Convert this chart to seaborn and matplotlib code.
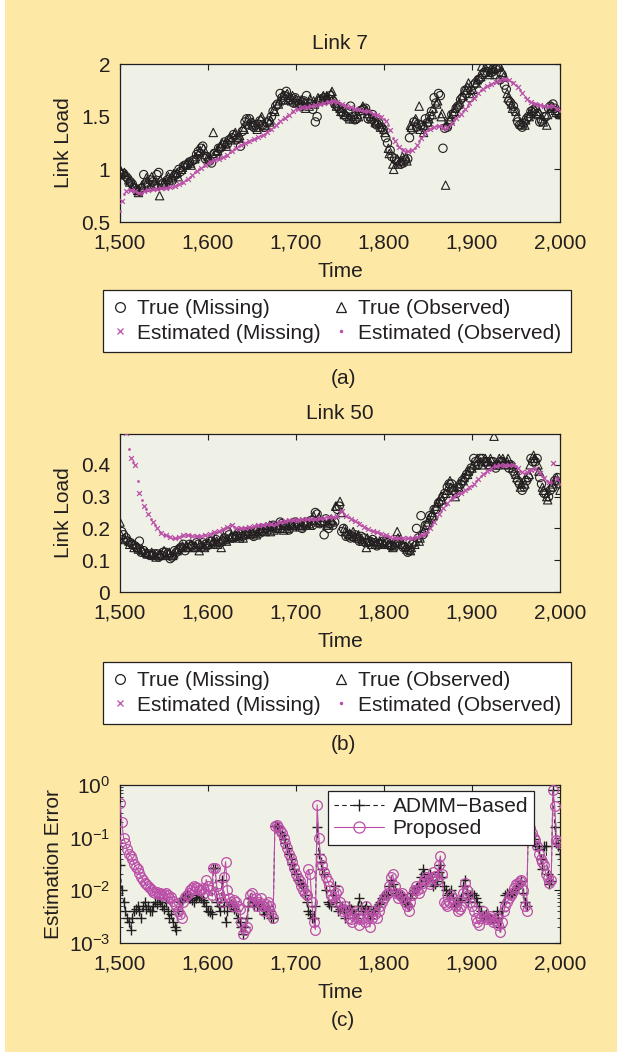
import numpy as np
import pandas as pd
import matplotlib
matplotlib.use("Agg")
import matplotlib.pyplot as plt
import seaborn as sns
from matplotlib.lines import Line2D
from matplotlib.patches import Rectangle

# ---------------- data ----------------
t_obs = list(range(1500, 2001, 5))    # observed slots (estimates + true)
t_mis = list(range(1502, 2000, 5))    # missing slots (estimates + true)
t_obs_b = list(range(1501, 2000, 5))  # further observed slots (true)
t_mis_b = list(range(1504, 2000, 5))  # further missing slots (true)

# Link 7
true7_obs = [1.00, 0.97, 0.90, 0.86, 0.80, 0.85, 0.92, 0.86, 0.90, 0.75,
             0.88, 0.93, 0.92, 0.97, 1.00, 1.05, 1.06, 1.10, 1.16, 1.20,
             1.12, 1.15, 1.17, 1.22, 1.25, 1.30, 1.33, 1.30, 1.40, 1.47,
             1.42, 1.40, 1.48, 1.42, 1.45, 1.57, 1.62, 1.66, 1.72, 1.65,
             1.67, 1.62, 1.64, 1.60, 1.65, 1.68, 1.66, 1.70, 1.72, 1.63,
             1.58, 1.52, 1.50, 1.48, 1.52, 1.58, 1.56, 1.50, 1.45, 1.43,
             1.38, 1.20, 1.05, 1.10, 1.08, 1.12, 1.42, 1.46, 1.60, 1.35,
             1.45, 1.52, 1.62, 1.50, 0.85, 1.47, 1.55, 1.62, 1.70, 1.78,
             1.72, 1.82, 1.88, 1.97, 1.90, 1.96, 1.97, 1.92, 1.72, 1.62,
             1.55, 1.45, 1.42, 1.50, 1.55, 1.52, 1.48, 1.42, 1.60, 1.56,
             1.52]
true7_obs_b = [0.98, 0.95, 0.88, 0.84, 0.78, 0.83, 0.88, 0.93, 0.85, 0.90,
               0.86, 0.90, 0.96, 0.93, 1.02, 1.06, 1.04, 1.12, 1.18, 1.14,
               1.10, 1.35, 1.18, 1.25, 1.22, 1.28, 1.35, 1.32, 1.38, 1.43,
               1.45, 1.38, 1.50, 1.40, 1.47, 1.55, 1.65, 1.70, 1.66, 1.70,
               1.63, 1.66, 1.58, 1.67, 1.62, 1.66, 1.70, 1.68, 1.74, 1.60,
               1.55, 1.54, 1.48, 1.52, 1.50, 1.60, 1.53, 1.48, 1.44, 1.40,
               1.35, 1.15, 1.00, 1.05, 1.12, 1.08, 1.40, 1.48, 1.38, 1.42,
               1.48, 1.58, 1.65, 1.53, 1.42, 1.50, 1.58, 1.64, 1.75, 1.82,
               1.76, 1.85, 1.98, 1.92, 1.95, 1.90, 1.99, 1.88, 1.68, 1.58,
               1.50, 1.43, 1.47, 1.53, 1.58, 1.55, 1.45, 1.52, 1.58, 1.54]
true7_mis = [0.95, 0.93, 0.88, 0.82, 0.79, 0.95, 0.83, 0.88, 0.95, 0.85,
             0.87, 0.95, 0.94, 1.00, 1.03, 1.04, 1.08, 1.14, 1.20, 1.10,
             1.08, 1.15, 1.20, 1.23, 1.24, 1.30, 1.28, 1.22, 1.45, 1.48,
             1.40, 1.43, 1.42, 1.44, 1.50, 1.60, 1.72, 1.70, 1.68, 1.63,
             1.65, 1.60, 1.70, 1.62, 1.45, 1.65, 1.68, 1.67, 1.65, 1.60,
             1.55, 1.50, 1.60, 1.47, 1.55, 1.57, 1.48, 1.52, 1.42, 1.40,
             1.30, 1.18, 1.10, 1.07, 1.06, 1.10, 1.38, 1.40, 1.42, 1.48,
             1.50, 1.68, 1.72, 1.20, 1.40, 1.52, 1.58, 1.66, 1.75, 1.68,
             1.80, 1.85, 1.90, 1.93, 1.92, 1.95, 1.85, 1.80, 1.65, 1.60,
             1.45, 1.40, 1.48, 1.55, 1.58, 1.45, 1.50, 1.58, 1.62, 1.55]
true7_mis_b = [0.96, 0.91, 0.86, 0.80, 0.82, 0.86, 0.90, 0.84, 0.97, 0.87,
               0.90, 0.89, 0.95, 0.98, 1.04, 1.07, 1.09, 1.17, 1.22, 1.12,
               1.06, 1.13, 1.20, 1.26, 1.28, 1.33, 1.30, 1.36, 1.48, 1.44,
               1.42, 1.46, 1.40, 1.46, 1.55, 1.62, 1.68, 1.74, 1.66, 1.68,
               1.62, 1.65, 1.63, 1.57, 1.50, 1.67, 1.66, 1.70, 1.62, 1.58,
               1.52, 1.55, 1.50, 1.48, 1.56, 1.58, 1.50, 1.46, 1.44, 1.38,
               1.25, 1.12, 1.08, 1.05, 1.09, 1.30, 1.45, 1.43, 1.40, 1.44,
               1.55, 1.63, 1.70, 1.39, 1.45, 1.53, 1.60, 1.68, 1.72, 1.75,
               1.82, 1.86, 1.92, 1.96, 1.93, 1.98, 1.90, 1.76, 1.63, 1.55,
               1.42, 1.44, 1.50, 1.56, 1.53, 1.46, 1.50, 1.60, 1.58, 1.52]
est7_obs = [0.60, 0.77, 0.80, 0.80, 0.78, 0.78, 0.80, 0.80, 0.81, 0.82,
            0.82, 0.82, 0.83, 0.85, 0.87, 0.90, 0.93, 0.97, 1.00, 1.03,
            1.06, 1.08, 1.10, 1.11, 1.13, 1.16, 1.19, 1.22, 1.24, 1.26,
            1.28, 1.30, 1.32, 1.34, 1.37, 1.40, 1.44, 1.48, 1.51, 1.54,
            1.57, 1.58, 1.59, 1.60, 1.61, 1.61, 1.62, 1.64, 1.65, 1.65,
            1.63, 1.61, 1.59, 1.58, 1.57, 1.56, 1.55, 1.54, 1.53, 1.51,
            1.48, 1.42, 1.30, 1.23, 1.19, 1.17, 1.17, 1.20, 1.27, 1.33,
            1.37, 1.39, 1.41, 1.42, 1.38, 1.42, 1.47, 1.51, 1.55, 1.60,
            1.66, 1.70, 1.75, 1.78, 1.80, 1.82, 1.84, 1.86, 1.86, 1.83,
            1.80, 1.75, 1.69, 1.65, 1.63, 1.62, 1.60, 1.59, 1.61, 1.58,
            1.55]
est7_mis = [0.70, 0.79, 0.80, 0.79, 0.78, 0.79, 0.80, 0.81, 0.81, 0.82,
            0.82, 0.83, 0.84, 0.86, 0.88, 0.91, 0.95, 0.98, 1.01, 1.04,
            1.07, 1.09, 1.10, 1.12, 1.14, 1.17, 1.20, 1.23, 1.25, 1.27,
            1.29, 1.31, 1.33, 1.35, 1.38, 1.42, 1.46, 1.49, 1.52, 1.55,
            1.57, 1.59, 1.59, 1.60, 1.61, 1.62, 1.63, 1.64, 1.65, 1.64,
            1.62, 1.60, 1.59, 1.57, 1.57, 1.55, 1.55, 1.53, 1.52, 1.50,
            1.46, 1.37, 1.27, 1.21, 1.18, 1.17, 1.18, 1.23, 1.30, 1.35,
            1.38, 1.40, 1.41, 1.39, 1.40, 1.44, 1.49, 1.53, 1.57, 1.63,
            1.68, 1.72, 1.76, 1.79, 1.81, 1.83, 1.85, 1.86, 1.85, 1.82,
            1.78, 1.72, 1.67, 1.64, 1.62, 1.61, 1.60, 1.60, 1.60, 1.57]

# Link 50
true50_obs = [0.22, 0.17, 0.16, 0.15, 0.14, 0.135, 0.125, 0.12, 0.115, 0.12,
              0.13, 0.12, 0.115, 0.13, 0.14, 0.145, 0.15, 0.14, 0.13, 0.145,
              0.15, 0.155, 0.16, 0.14, 0.165, 0.17, 0.175, 0.18, 0.17, 0.185,
              0.19, 0.18, 0.20, 0.19, 0.21, 0.195, 0.20, 0.21, 0.20, 0.215,
              0.21, 0.205, 0.22, 0.215, 0.24, 0.22, 0.225, 0.21, 0.23, 0.27,
              0.285, 0.20, 0.18, 0.19, 0.17, 0.165, 0.14, 0.16, 0.15, 0.16,
              0.155, 0.15, 0.14, 0.19, 0.155, 0.145, 0.13, 0.15, 0.16, 0.19,
              0.22, 0.25, 0.27, 0.30, 0.31, 0.35, 0.32, 0.33, 0.35, 0.37,
              0.39, 0.40, 0.41, 0.42, 0.40, 0.49, 0.40, 0.42, 0.41, 0.40,
              0.37, 0.33, 0.34, 0.37, 0.43, 0.40, 0.33, 0.30, 0.33, 0.35,
              0.32]
true50_obs_b = [0.18, 0.165, 0.15, 0.14, 0.135, 0.13, 0.12, 0.125, 0.11, 0.12,
                0.115, 0.125, 0.12, 0.135, 0.145, 0.14, 0.15, 0.145, 0.15, 0.14,
                0.155, 0.16, 0.15, 0.17, 0.16, 0.175, 0.18, 0.17, 0.18, 0.19,
                0.185, 0.19, 0.195, 0.205, 0.19, 0.205, 0.21, 0.195, 0.21, 0.205,
                0.22, 0.21, 0.215, 0.21, 0.225, 0.235, 0.22, 0.215, 0.225, 0.27,
                0.25, 0.19, 0.185, 0.175, 0.18, 0.16, 0.17, 0.15, 0.16, 0.155,
                0.15, 0.155, 0.145, 0.17, 0.15, 0.135, 0.14, 0.16, 0.17, 0.20,
                0.23, 0.24, 0.28, 0.29, 0.32, 0.33, 0.30, 0.34, 0.36, 0.38,
                0.40, 0.42, 0.40, 0.41, 0.42, 0.40, 0.42, 0.41, 0.42, 0.39,
                0.36, 0.34, 0.36, 0.40, 0.42, 0.38, 0.32, 0.29, 0.34, 0.36]
true50_mis = [0.19, 0.17, 0.155, 0.145, 0.16, 0.13, 0.12, 0.115, 0.12, 0.115,
              0.125, 0.105, 0.13, 0.135, 0.15, 0.14, 0.145, 0.155, 0.14, 0.15,
              0.16, 0.15, 0.175, 0.16, 0.19, 0.17, 0.175, 0.185, 0.18, 0.19,
              0.175, 0.195, 0.19, 0.20, 0.205, 0.20, 0.22, 0.21, 0.195, 0.21,
              0.215, 0.20, 0.21, 0.225, 0.25, 0.215, 0.18, 0.20, 0.21, 0.26,
              0.19, 0.175, 0.17, 0.18, 0.16, 0.17, 0.155, 0.165, 0.145, 0.15,
              0.16, 0.145, 0.15, 0.16, 0.14, 0.125, 0.15, 0.20, 0.24, 0.21,
              0.24, 0.26, 0.28, 0.30, 0.33, 0.34, 0.31, 0.34, 0.36, 0.38,
              0.42, 0.40, 0.42, 0.41, 0.41, 0.39, 0.41, 0.40, 0.39, 0.38,
              0.35, 0.32, 0.35, 0.42, 0.41, 0.36, 0.31, 0.30, 0.33, 0.36]
true50_mis_b = [0.18, 0.16, 0.15, 0.14, 0.125, 0.12, 0.115, 0.12, 0.11, 0.125,
                0.12, 0.11, 0.125, 0.14, 0.13, 0.15, 0.14, 0.15, 0.155, 0.145,
                0.16, 0.165, 0.155, 0.17, 0.18, 0.17, 0.185, 0.175, 0.19, 0.18,
                0.19, 0.185, 0.20, 0.195, 0.21, 0.20, 0.215, 0.205, 0.21, 0.22,
                0.21, 0.215, 0.22, 0.21, 0.245, 0.22, 0.23, 0.215, 0.22, 0.27,
                0.20, 0.18, 0.175, 0.17, 0.175, 0.155, 0.16, 0.155, 0.15, 0.16,
                0.155, 0.145, 0.155, 0.15, 0.14, 0.13, 0.155, 0.17, 0.18, 0.21,
                0.235, 0.26, 0.285, 0.31, 0.34, 0.32, 0.33, 0.35, 0.37, 0.39,
                0.41, 0.42, 0.41, 0.40, 0.41, 0.40, 0.41, 0.40, 0.40, 0.37,
                0.34, 0.33, 0.36, 0.41, 0.42, 0.34, 0.31, 0.32, 0.35, 0.34]
est50_obs = [0.62, 0.53, 0.45, 0.41, 0.35, 0.29, 0.26, 0.23, 0.21, 0.19,
             0.18, 0.175, 0.17, 0.17, 0.175, 0.18, 0.178, 0.175, 0.175, 0.18,
             0.18, 0.185, 0.19, 0.195, 0.20, 0.21, 0.205, 0.20, 0.20, 0.205,
             0.205, 0.21, 0.21, 0.215, 0.215, 0.21, 0.22, 0.22, 0.225, 0.225,
             0.225, 0.23, 0.23, 0.23, 0.23, 0.23, 0.23, 0.235, 0.235, 0.235,
             0.255, 0.245, 0.235, 0.225, 0.22, 0.21, 0.20, 0.195, 0.19, 0.185,
             0.18, 0.175, 0.17, 0.17, 0.17, 0.17, 0.17, 0.17, 0.175, 0.18,
             0.19, 0.21, 0.235, 0.255, 0.275, 0.29, 0.30, 0.31, 0.315, 0.325,
             0.335, 0.35, 0.365, 0.375, 0.385, 0.395, 0.40, 0.40, 0.40, 0.40,
             0.395, 0.38, 0.375, 0.385, 0.39, 0.38, 0.365, 0.35, 0.345, 0.36,
             0.34]
est50_mis = [0.58, 0.50, 0.42, 0.40, 0.31, 0.27, 0.245, 0.22, 0.20, 0.185,
             0.178, 0.172, 0.17, 0.172, 0.178, 0.18, 0.176, 0.175, 0.177, 0.18,
             0.182, 0.188, 0.192, 0.198, 0.205, 0.21, 0.20, 0.20, 0.202, 0.205,
             0.207, 0.21, 0.212, 0.215, 0.213, 0.215, 0.22, 0.222, 0.225, 0.225,
             0.228, 0.23, 0.23, 0.23, 0.23, 0.232, 0.232, 0.235, 0.235, 0.24,
             0.255, 0.24, 0.23, 0.222, 0.215, 0.205, 0.198, 0.192, 0.188, 0.182,
             0.178, 0.172, 0.17, 0.17, 0.17, 0.17, 0.17, 0.172, 0.178, 0.185,
             0.20, 0.22, 0.245, 0.265, 0.28, 0.295, 0.305, 0.312, 0.32, 0.33,
             0.34, 0.355, 0.37, 0.38, 0.39, 0.395, 0.40, 0.40, 0.40, 0.40,
             0.39, 0.378, 0.378, 0.385, 0.388, 0.375, 0.36, 0.345, 0.405, 0.355]

# Estimation error (every 2 time units)
t_err = list(range(1500, 2001, 2))
err_admm = [0.03, 0.01, 0.006, 0.004, 0.003, 0.0025, 0.0018, 0.003, 0.004, 0.0045,
            0.005, 0.004, 0.003, 0.005, 0.006, 0.0045, 0.005, 0.004, 0.004, 0.005,
            0.006, 0.0055, 0.007, 0.006, 0.005, 0.0045, 0.006, 0.004, 0.003, 0.0035,
            0.0025, 0.002, 0.0018, 0.004, 0.006, 0.0065, 0.007, 0.0075, 0.008, 0.007,
            0.007, 0.0065, 0.006, 0.007, 0.008, 0.0075, 0.007, 0.0065, 0.006, 0.005,
            0.004, 0.0038, 0.0035, 0.026, 0.026, 0.006, 0.005, 0.004, 0.016, 0.005,
            0.0025, 0.004, 0.006, 0.0055, 0.005, 0.0045, 0.004, 0.003, 0.0025, 0.002,
            0.0015, 0.002, 0.003, 0.005, 0.007, 0.006, 0.005, 0.006, 0.005, 0.0055,
            0.006, 0.0045, 0.0035, 0.004, 0.005, 0.004, 0.003, 0.003, 0.17, 0.17,
            0.16, 0.13, 0.11, 0.095, 0.08, 0.063, 0.05, 0.04, 0.032, 0.025,
            0.02, 0.016, 0.014, 0.013, 0.012, 0.008, 0.006, 0.004, 0.0035, 0.003,
            0.003, 0.005, 0.16, 0.05, 0.035, 0.025, 0.02, 0.01, 0.006, 0.0055,
            0.005, 0.008, 0.012, 0.006, 0.004, 0.0045, 0.005, 0.004, 0.003, 0.004,
            0.005, 0.0045, 0.004, 0.0035, 0.003, 0.005, 0.007, 0.005, 0.004, 0.0045,
            0.005, 0.004, 0.003, 0.0035, 0.004, 0.0045, 0.005, 0.0055, 0.006, 0.007,
            0.008, 0.0085, 0.008, 0.012, 0.016, 0.013, 0.01, 0.009, 0.008, 0.0085,
            0.008, 0.007, 0.006, 0.0055, 0.005, 0.007, 0.009, 0.010, 0.011, 0.0115,
            0.012, 0.018, 0.025, 0.02, 0.015, 0.017, 0.02, 0.016, 0.012, 0.013,
            0.015, 0.022, 0.03, 0.018, 0.012, 0.01, 0.008, 0.009, 0.01, 0.007,
            0.005, 0.0055, 0.006, 0.0065, 0.007, 0.012, 0.016, 0.009, 0.006, 0.008,
            0.009, 0.008, 0.007, 0.006, 0.005, 0.004, 0.003, 0.0032, 0.0035, 0.0032,
            0.003, 0.0028, 0.0025, 0.003, 0.004, 0.003, 0.002, 0.004, 0.006, 0.008,
            0.009, 0.0085, 0.008, 0.009, 0.01, 0.011, 0.012, 0.013, 0.015, 0.009,
            0.006, 0.005, 0.15, 0.13, 0.11, 0.095, 0.08, 0.07, 0.06, 0.04,
            0.025, 0.07, 0.07, 0.02, 0.013, 0.015, 0.8, 0.16, 0.08, 0.07,
            0.05]
err_prop = [0.45, 0.20, 0.10, 0.08, 0.06, 0.05, 0.045, 0.04, 0.032, 0.028,
            0.025, 0.021, 0.018, 0.016, 0.014, 0.013, 0.012, 0.011, 0.010, 0.0095,
            0.009, 0.0095, 0.0085, 0.009, 0.008, 0.0085, 0.009, 0.008, 0.007, 0.0075,
            0.0063, 0.0055, 0.005, 0.004, 0.0035, 0.003, 0.006, 0.0075, 0.008, 0.009,
            0.010, 0.011, 0.012, 0.0115, 0.011, 0.010, 0.010, 0.011, 0.009, 0.016,
            0.012, 0.010, 0.008, 0.027, 0.026, 0.012, 0.009, 0.007, 0.006, 0.018,
            0.035, 0.010, 0.007, 0.006, 0.005, 0.0065, 0.006, 0.005, 0.0045, 0.0025,
            0.0015, 0.0018, 0.002, 0.006, 0.008, 0.009, 0.006, 0.007, 0.005, 0.006,
            0.007, 0.005, 0.004, 0.0055, 0.006, 0.005, 0.0035, 0.003, 0.17, 0.175,
            0.16, 0.14, 0.12, 0.10, 0.08, 0.065, 0.05, 0.042, 0.035, 0.027,
            0.02, 0.017, 0.015, 0.012, 0.01, 0.009, 0.008, 0.025, 0.02, 0.006,
            0.0025, 0.0018, 0.42, 0.10, 0.04, 0.03, 0.022, 0.018, 0.015, 0.012,
            0.008, 0.007, 0.006, 0.009, 0.01, 0.006, 0.004, 0.0045, 0.005, 0.004,
            0.003, 0.0028, 0.0025, 0.0035, 0.004, 0.003, 0.0022, 0.0028, 0.003, 0.0025,
            0.005, 0.003, 0.002, 0.003, 0.004, 0.0035, 0.003, 0.004, 0.005, 0.006,
            0.007, 0.008, 0.009, 0.012, 0.018, 0.020, 0.012, 0.009, 0.007, 0.008,
            0.009, 0.007, 0.006, 0.005, 0.004, 0.006, 0.008, 0.010, 0.012, 0.010,
            0.009, 0.011, 0.014, 0.016, 0.018, 0.015, 0.013, 0.018, 0.022, 0.019,
            0.016, 0.03, 0.045, 0.02, 0.006, 0.0055, 0.005, 0.006, 0.008, 0.007,
            0.006, 0.005, 0.004, 0.0045, 0.005, 0.009, 0.014, 0.010, 0.008, 0.006,
            0.005, 0.004, 0.003, 0.0025, 0.0022, 0.003, 0.004, 0.0032, 0.0028, 0.003,
            0.0032, 0.0028, 0.0025, 0.0027, 0.003, 0.0022, 0.0016, 0.0025, 0.004, 0.005,
            0.006, 0.007, 0.008, 0.009, 0.011, 0.013, 0.014, 0.015, 0.016, 0.010,
            0.005, 0.004, 0.17, 0.15, 0.12, 0.10, 0.09, 0.07, 0.05, 0.04,
            0.035, 0.03, 0.02, 0.017, 0.014, 0.016, 0.8, 0.40, 0.09, 0.085,
            0.08]

xticks = [1500, 1600, 1700, 1800, 1900, 2000]
xticklabels = ["1,500", "1,600", "1,700", "1,800", "1,900", "2,000"]

# ---------------- style ----------------
BG = "#FDE8A6"
FACE = "#EFF1E6"
MAG = "#BB4FA8"
INK = "#231F20"

sns.set_theme(style="white")
plt.rcParams["font.family"] = ["Liberation Sans", "DejaVu Sans"]
plt.rcParams["font.size"] = 15
plt.rcParams["mathtext.fontset"] = "custom"
plt.rcParams["mathtext.rm"] = "Liberation Sans"
plt.rcParams["mathtext.it"] = "Liberation Sans"

W, H = 617, 1052
fig = plt.figure(figsize=(W / 100, H / 100), dpi=100, facecolor=BG)
fig.patches.append(Rectangle((0, 0), 5 / W, 1, transform=fig.transFigure,
                             facecolor="white", edgecolor="none", zorder=-1))


def ax_rect(top_px, bottom_px, left_px=120, right_px=560):
    return [left_px / W, 1 - bottom_px / H, (right_px - left_px) / W,
            (bottom_px - top_px) / H]


def style_axes(ax):
    ax.set_facecolor(FACE)
    for s in ax.spines.values():
        s.set_color(INK)
        s.set_linewidth(0.9)
        s.set_visible(True)
    ax.tick_params(direction="in", top=True, right=True, length=4, width=0.8,
                   colors=INK, labelsize=15)
    ax.tick_params(axis="x", pad=8)
    ax.tick_params(axis="y", pad=7)
    ax.set_xlim(1500, 2000)
    ax.set_xticks(xticks)
    ax.set_xticklabels(xticklabels)
    ax.set_xlabel("Time", fontsize=15, color=INK, labelpad=7)


def link_panel(top, bottom, title, tr_obs, tr_obs_b, tr_mis, tr_mis_b, es_obs, es_mis,
               ylim, yticks, yticklabels, legtop, legbot, tag, tagy):
    ax = fig.add_axes(ax_rect(top, bottom))
    sns.scatterplot(x=t_mis + t_mis_b, y=tr_mis + tr_mis_b, ax=ax, marker="o", s=36,
                    facecolor="none", edgecolor=INK, linewidth=0.8, zorder=2, legend=False)
    sns.scatterplot(x=t_obs + t_obs_b, y=tr_obs + tr_obs_b, ax=ax, marker="^", s=36,
                    facecolor="none", edgecolor=INK, linewidth=0.8, zorder=2, legend=False)
    sns.scatterplot(x=t_mis, y=es_mis, ax=ax, marker="x", color=MAG, s=12,
                    linewidth=0.9, zorder=3, legend=False)
    sns.scatterplot(x=t_obs, y=es_obs, ax=ax, marker="o", color=MAG, s=4,
                    linewidth=0, zorder=3, legend=False)
    style_axes(ax)
    ax.set_ylim(*ylim)
    ax.set_yticks(yticks)
    ax.set_yticklabels(yticklabels)
    ax.set_ylabel("Link Load", fontsize=15, color=INK, labelpad=6)
    ax.set_title(title, fontsize=15, color=INK, pad=11)

    handles = [
        Line2D([], [], marker="o", ls="none", mfc="none", mec=INK, ms=7, mew=0.9),
        Line2D([], [], marker="x", ls="none", color=MAG, ms=5, mew=0.9),
        Line2D([], [], marker="^", ls="none", mfc="none", mec=INK, ms=7, mew=0.9),
        Line2D([], [], marker=".", ls="none", color=MAG, ms=3),
    ]
    labels = ["True (Missing)", "Estimated (Missing)", "True (Observed)", "Estimated (Observed)"]
    lx0, lx1 = 107 / W, 567 / W
    ly0, ly1 = 1 - legbot / H, 1 - legtop / H
    leg = fig.legend(handles, labels, ncol=2, loc="center",
                     bbox_to_anchor=((lx0 + lx1) / 2, (ly0 + ly1) / 2),
                     bbox_transform=fig.transFigure, frameon=True, fancybox=False,
                     framealpha=1, fontsize=15, handlelength=0.7, handletextpad=0.5,
                     columnspacing=0.6, labelspacing=0.25, borderpad=0.45)
    leg.get_frame().set_edgecolor(INK)
    leg.get_frame().set_linewidth(0.9)
    leg.get_frame().set_facecolor("white")
    for txt in leg.get_texts():
        txt.set_color(INK)
    fig.text(343 / W, 1 - tagy / H, tag, ha="center", va="center", fontsize=15, color=INK)
    return ax


link_panel(64, 222, "Link 7", true7_obs, true7_obs_b, true7_mis, true7_mis_b,
           est7_obs, est7_mis,
           (0.5, 2.0), [0.5, 1, 1.5, 2], ["0.5", "1", "1.5", "2"], 287, 355, "(a)", 378)
link_panel(434, 592, "Link 50", true50_obs, true50_obs_b, true50_mis, true50_mis_b,
           est50_obs, est50_mis,
           (0.0, 0.497), [0, 0.1, 0.2, 0.3, 0.4], ["0", "0.1", "0.2", "0.3", "0.4"],
           658, 728, "(b)", 745)

# ---------------- panel c ----------------
axc = fig.add_axes(ax_rect(785, 943))
df_err = pd.DataFrame({"Time": t_err, "ADMM": err_admm, "Proposed": err_prop})
sns.lineplot(data=df_err, x="Time", y="ADMM", ax=axc, color=INK, lw=0.7,
             linestyle=(0, (4, 3)), marker="+", markersize=7, markeredgewidth=1.0,
             markeredgecolor=INK, markerfacecolor=INK,
             estimator=None, sort=False, zorder=2)
sns.lineplot(data=df_err, x="Time", y="Proposed", ax=axc, color=MAG, lw=0.8,
             marker="o", markersize=7, markerfacecolor="none", markeredgecolor=MAG,
             markeredgewidth=0.9, estimator=None, sort=False, zorder=3)
style_axes(axc)
axc.set_yscale("log")
axc.set_ylim(1e-3, 1e0)
axc.set_yticks([1e-3, 1e-2, 1e-1, 1e0])
axc.set_yticklabels([r"$10^{-3}$", r"$10^{-2}$", r"$10^{-1}$", r"$10^{0}$"])
axc.yaxis.set_minor_locator(matplotlib.ticker.LogLocator(base=10, subs=np.arange(2, 10)))
axc.yaxis.set_minor_formatter(matplotlib.ticker.NullFormatter())
axc.tick_params(which="minor", direction="in", left=True, right=True, length=2, width=0.6, colors=INK)
axc.set_ylabel("Estimation Error", fontsize=15, color=INK, labelpad=4)

h_c = [Line2D([], [], color=INK, lw=0.8, ls=(0, (4, 3)), marker="+", ms=8, mew=1.0),
       Line2D([], [], color=MAG, lw=0.8, marker="o", ms=8, mfc="none", mec=MAG, mew=0.9)]
legc = axc.legend(h_c, ["ADMM\u2212Based", "Proposed"], loc="upper left",
                  bbox_to_anchor=((328 - 120) / 440, (943 - 791) / 158),
                  frameon=True, fancybox=False, framealpha=1, fontsize=15,
                  handlelength=2.4, handletextpad=0.4, labelspacing=0.15,
                  borderpad=0.3, borderaxespad=0)
legc.get_frame().set_edgecolor(INK)
legc.get_frame().set_linewidth(0.9)
legc.get_frame().set_facecolor("white")
for txt in legc.get_texts():
    txt.set_color(INK)

fig.text(343 / W, 1 - 1020 / H, "(c)", ha="center", va="center", fontsize=15, color=INK)

fig.savefig("out.png", dpi=100, facecolor=BG)
